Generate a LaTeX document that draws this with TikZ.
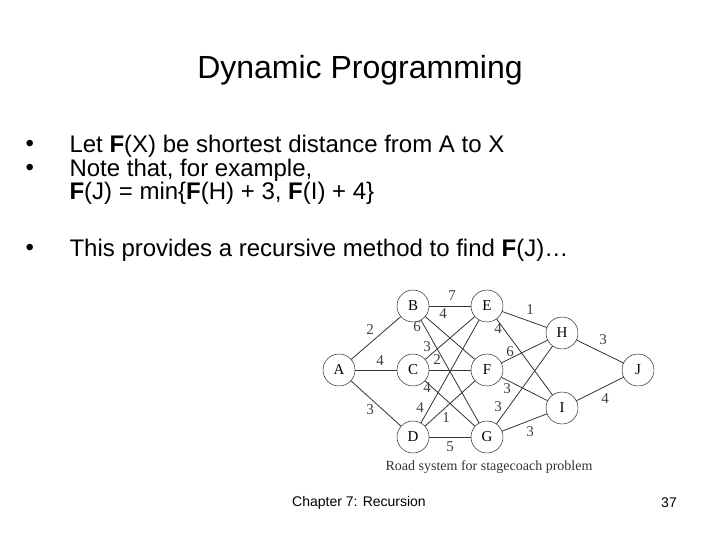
\documentclass[tikz,border=0pt]{standalone}
\usepackage{fontspec}
\setmainfont{Liberation Sans}
\newfontfamily\serifg{Liberation Serif}
\begin{document}
\begin{tikzpicture}[x=1pt,y=-1pt,
  vtx/.style={circle,draw,minimum size=32pt,inner sep=0pt,font=\serifg\fontsize{15}{15}\selectfont},
  wt/.style={font=\serifg\fontsize{15}{15}\selectfont,text=black!75},
  ed/.style={draw=black!80,line width=0.8pt},
  body/.style={anchor=west,font=\fontsize{24}{24}\selectfont}]
\useasboundingbox (0,0) rectangle (720,540);
\node[font=\fontsize{32}{32}\selectfont] (title) at (360,70) {Dynamic Programming};
\node[body] (b1) at (22,146) {•};
\node[body] (t1) at (66,146) {Let \textbf{F}(X) be shortest distance from A to X};
\node[body] (b2) at (22,170) {•};
\node[body] (t2) at (66,170) {Note that, for example,};
\node[body] (t3) at (66,193) {\textbf{F}(J) = min\{\textbf{F}(H) + 3, \textbf{F}(I) + 4\}};
\node[body] (b3) at (22,250) {•};
\node[body] (t4) at (66,250) {This provides a recursive method to find \textbf{F}(J)…};
\node (A) [vtx] at (339,370) {A};
\node (B) [vtx] at (413,306) {B};
\node (C) [vtx] at (413,370) {C};
\node (D) [vtx] at (413,437) {D};
\node (E) [vtx] at (487,306) {E};
\node (F) [vtx] at (487,370) {F};
\node (G) [vtx] at (487,437) {G};
\node (H) [vtx] at (562,333) {H};
\node (I) [vtx] at (562,408) {I};
\node (J) [vtx] at (638,370) {J};
\foreach \a/\b in {A/B,A/C,A/D,B/E,B/F,B/G,C/E,C/F,C/G,D/E,D/F,D/G,E/H,E/I,F/H,F/I,G/H,G/I,H/J,I/J}
  \draw[ed] (\a) -- (\b);
\node[wt] (w1) at (370,330) {2};
\node[wt] (w2) at (380,361) {4};
\node[wt] (w3) at (370,410) {3};
\node[wt] (w4) at (452,296) {7};
\node[wt] (w5) at (443,314) {4};
\node[wt] (w6) at (417,327) {6};
\node[wt] (w7) at (427,347) {3};
\node[wt] (w8) at (437,360) {2};
\node[wt] (w9) at (427,388) {4};
\node[wt] (w10) at (420,408) {4};
\node[wt] (w11) at (446,418) {1};
\node[wt] (w12) at (450,447) {5};
\node[wt] (w13) at (530,310) {1};
\node[wt] (w14) at (498,329) {4};
\node[wt] (w15) at (510,352) {6};
\node[wt] (w16) at (507,389) {3};
\node[wt] (w17) at (498,407) {3};
\node[wt] (w18) at (530,432) {3};
\node[wt] (w19) at (603,340) {3};
\node[wt] (w20) at (605,399) {4};
\node[font=\serifg\fontsize{14}{14}\selectfont,text=black!80] (cap) at (489,467) {Road system for stagecoach problem};
\node[font=\fontsize{14}{14}\selectfont] (foot) at (359,503) {Chapter 7: Recursion};
\node[font=\fontsize{14}{14}\selectfont] (num) at (669,503) {37};
\end{tikzpicture}
\end{document}
